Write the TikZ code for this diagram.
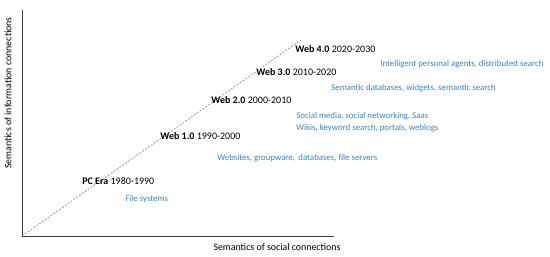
\documentclass[tikz,border=0pt]{standalone}
\usepackage{fontspec}
\setmainfont{Carlito}
\definecolor{eratext}{RGB}{60,130,190}
\tikzset{every picture/.style={line width=0.75pt}}
\tikzset{
  eralabel/.style={anchor=west,inner sep=0pt,font=\fontsize{10}{12}\selectfont},
  techlabel/.style={anchor=west,inner sep=0pt,text=eratext,font=\fontsize{8.8}{10.5}\selectfont},
  axislabel/.style={inner sep=0pt,font=\fontsize{9.9}{12}\selectfont}
}

\begin{document}
\begin{tikzpicture}[x=1pt,y=1pt,yscale=-1,xscale=1]
\useasboundingbox (0,0) rectangle (550,257);

% Axes
\coordinate (origin) at (22,236);
\coordinate (ytop) at (22,10);
\coordinate (xend) at (334,236);
\coordinate (trend) at (301,40);
\draw [line width=1pt,color={rgb, 255:red, 60; green, 60; blue, 60 }] (ytop) -- (origin) -- (xend);
% Trend line
\draw [dashed,dash pattern=on 2pt off 1.5pt,color={rgb, 255:red, 130; green, 130; blue, 130 },line width=0.6pt] (origin) -- (trend);

% Axis titles
\node [axislabel,rotate=90] (ytitle) at (8,93) {Semantics of information connections};
\node [axislabel] (xtitle) at (277,247) {Semantics of social connections};

% Eras
\node [eralabel] (pcera) at (82,181) {\textbf{PC Era} 1980-1990};
\node [eralabel] (webone) at (160,136) {\textbf{Web 1.0} 1990-2000};
\node [eralabel] (webtwo) at (211,100) {\textbf{Web 2.0} 2000-2010};
\node [eralabel] (webthree) at (256,72) {\textbf{Web 3.0} 2010-2020};
\node [eralabel] (webfour) at (295,49) {\textbf{Web 4.0} 2020-2030};

% Technologies
\node [techlabel] (pctech) at (125,199) {File systems};
\node [techlabel] (onetech) at (217,158) {Websites, groupware,\, databases, file servers};
\node [techlabel] (twotecha) at (296,116) {Social media, social networking, Saas};
\node [techlabel] (twotechb) at (296,128) {Wikis, keyword search, portals, weblogs};
\node [techlabel] (threetech) at (331,88) {Semantic databases, widgets, semantic search};
\node [techlabel] (fourtech) at (380,64) {Intelligent personal agents, distributed search};

\end{tikzpicture}
\end{document}
